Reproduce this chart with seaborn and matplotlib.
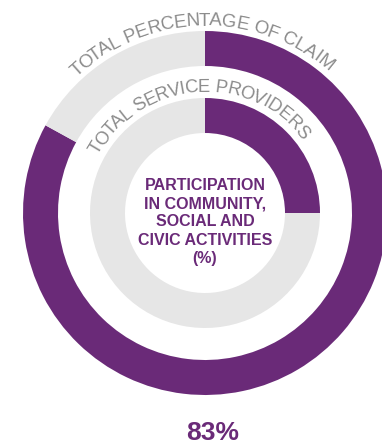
import numpy as np
import seaborn as sns
import matplotlib.pyplot as plt

# ring data (outer -> inner)
ring_labels = ["TOTAL PERCENTAGE OF CLAIM", "TOTAL SERVICE PROVIDERS"]
ring_values = [83, 25]
center_title = "PARTICIPATION\nIN COMMUNITY,\nSOCIAL AND\nCIVIC ACTIVITIES\n(%)"
headline = "83%"

purple = "#6a2a78"
light = "#e6e6e6"
label_grey = "#8c8c8c"

sns.set_theme(style="white")
plt.rcParams["font.family"] = ["Liberation Sans", "DejaVu Sans"]

W, H = 382, 447
fig = plt.figure(figsize=(W / 100, H / 100), dpi=100)
ax = fig.add_axes([0, 0, 1, 1])

cx, cy = 205, 234
radii = [182, 115]
width = 35

for r, v in zip(radii, ring_values):
    ax.pie([v, 100 - v], radius=r, center=(cx, cy), startangle=90,
           counterclock=False, colors=[purple, light],
           wedgeprops=dict(width=width, linewidth=0))

ax.set_xlim(0, W)
ax.set_ylim(0, H)
ax.set_aspect("equal")
ax.set_axis_off()

renderer = fig.canvas.get_renderer()


def char_width(ch, size):
    t1 = ax.text(0, 0, "a" + ch + "a", fontsize=size)
    t2 = ax.text(0, 0, "aa", fontsize=size)
    w = t1.get_window_extent(renderer).width - t2.get_window_extent(renderer).width
    t1.remove()
    t2.remove()
    return w


def curved_text(s, radius, mid_deg, size, color):
    widths = [char_width(ch, size) for ch in s]
    total = sum(widths)
    start = np.radians(mid_deg) - total / radius / 2
    pos = 0
    for ch, w in zip(s, widths):
        th = start + (pos + w / 2) / radius
        pos += w
        ax.text(cx + radius * np.sin(th), cy + radius * np.cos(th), ch,
                fontsize=size, color=color, rotation=-np.degrees(th),
                rotation_mode="anchor", ha="center", va="center")


curved_text(ring_labels[0], 192, -1, 13.5, label_grey)
curved_text(ring_labels[1], 126, -4, 13.2, label_grey)

ax.text(cx, H - 222, center_title, ha="center", va="center", fontsize=11.5,
        fontweight="bold", color=purple, linespacing=1.28)
ax.text(213, H - 433, headline, ha="center", va="center", fontsize=19,
        fontweight="bold", color=purple)

fig.savefig("out.png", dpi=100)
